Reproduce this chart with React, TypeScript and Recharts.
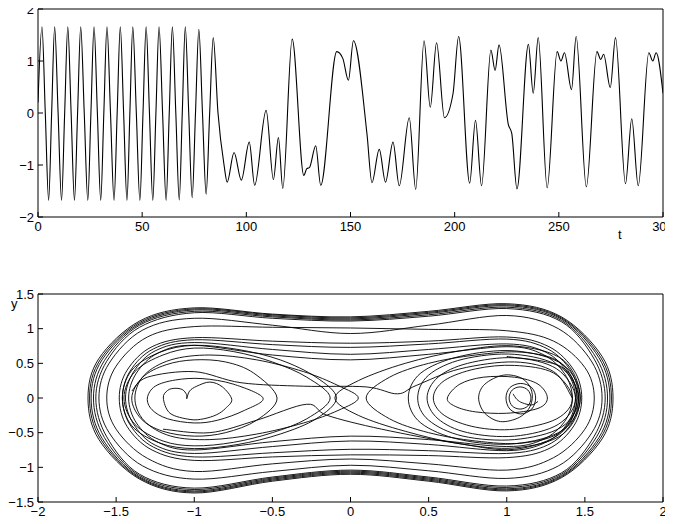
import React from 'react';
import { LineChart, Line, XAxis, YAxis } from 'recharts';

type Pt = [number, number];

const FONT = '"Liberation Sans", Arial, Helvetica, sans-serif';

const tTicks = [0, 50, 100, 150, 200, 250, 300];
const xTicks = [-2, -1, 0, 1, 2];
const phaseXTicks = [-2, -1.5, -1, -0.5, 0, 0.5, 1, 1.5, 2];
const phaseYTicks = [-1.5, -1, -0.5, 0, 0.5, 1, 1.5];

// upper panel: x(t) read at peaks, troughs, zero crossings and shoulders
const xOfT: Pt[] = [
  [0, 0.2], [1.9, 1.66], [3.5, 0], [5.1, -1.68], [6.55, 0],
  [8.0, 1.66], [9.65, 0], [11.3, -1.68], [12.8, 0],
  [14.3, 1.66], [15.9, 0], [17.5, -1.68], [19.0, 0],
  [20.5, 1.66], [22.2, 0], [23.9, -1.68], [25.4, 0],
  [26.9, 1.66], [28.5, 0], [30.1, -1.68], [31.6, 0],
  [33.1, 1.66], [34.8, 0], [36.5, -1.68], [38.0, 0],
  [39.5, 1.66], [41.1, 0], [42.7, -1.68], [44.1, 0],
  [45.5, 1.66], [47.2, 0], [48.9, -1.68], [50.4, 0],
  [51.9, 1.66], [53.5, 0], [55.1, -1.68], [56.6, 0],
  [58.1, 1.66], [59.8, 0], [61.5, -1.68], [63.0, 0],
  [64.5, 1.66], [66.15, 0], [67.8, -1.67], [69.25, 0],
  [70.7, 1.66], [72.35, 0], [74.0, -1.63], [75.6, 0],
  [77.2, 1.61], [78.95, 0], [80.7, -1.56], [82.4, 0],
  [84.1, 1.45], [86.4, 0.0], [89.3, -1.0], [90.8, -1.33],
  [94.1, -0.76], [97.6, -1.29], [101.4, -0.56], [104.0, -1.39],
  [109.5, 0.05], [113.0, -1.28], [115.4, -0.47], [117.5, -1.45],
  [122.0, 1.42], [127.6, -1.2], [129.0, -1.07], [130.3, -1.05],
  [133.3, -0.63], [135.7, -1.39], [143.4, 1.18], [146.3, 1.05],
  [149.0, 0.63], [151.4, 1.39], [157.9, -0.4], [160.3, -1.34],
  [163.8, -0.7], [166.8, -1.33], [170.4, -0.56], [173.4, -1.4],
  [178.2, -0.09], [181.3, -1.47], [185.3, 1.39], [188.3, 0.11],
  [191.3, 1.35], [195.1, -0.09], [199.2, 0.37], [201.9, 1.47],
  [207.2, -1.35], [210.0, -0.14], [212.9, -1.4], [217.4, 1.21],
  [219.4, 0.82], [221.3, 1.31], [225.8, -0.23], [227.4, -0.39],
  [229.9, -1.46], [235.4, 1.32], [237.7, 0.38], [240.1, 1.45],
  [244.4, -1.44], [249.2, 1.18], [251.0, 1.0], [252.7, 1.16],
  [256.1, 0.45], [258.3, 1.47], [263.2, -1.42], [268.3, 1.18],
  [270.1, 1.03], [271.5, 1.13], [274.7, 0.49], [277.2, 1.45],
  [282.0, -1.36], [285.0, -0.11], [288.1, -1.4], [293.2, 1.16],
  [295.1, 1.0], [296.7, 1.16], [300, 0.38],
];

// lower panel: (x, y) loops of the phase portrait, clockwise
const outer1: Pt[] = [[-1.68, 0], [-1.61, 0.57], [-1.35, 1.11], [-1, 1.3], [-0.5, 1.21], [0, 1.17], [0.5, 1.25], [1, 1.36], [1.35, 1.17], [1.61, 0.6], [1.68, 0], [1.61, -0.59], [1.35, -1.15], [1, -1.34], [0.5, -1.2], [0, -1.1], [-0.5, -1.2], [-1, -1.37], [-1.35, -1.17], [-1.61, -0.6]];
const outer2: Pt[] = [[-1.67, 0], [-1.6, 0.56], [-1.35, 1.09], [-1, 1.285], [-0.5, 1.2], [0, 1.155], [0.5, 1.235], [1, 1.345], [1.35, 1.155], [1.6, 0.59], [1.67, 0], [1.6, -0.58], [1.35, -1.135], [1, -1.325], [0.5, -1.185], [0, -1.085], [-0.5, -1.185], [-1, -1.355], [-1.35, -1.155], [-1.6, -0.59]];
const outer3: Pt[] = [[-1.66, 0], [-1.59, 0.55], [-1.35, 1.07], [-1, 1.27], [-0.5, 1.185], [0, 1.14], [0.5, 1.22], [1, 1.33], [1.35, 1.14], [1.59, 0.58], [1.66, 0], [1.59, -0.57], [1.35, -1.12], [1, -1.31], [0.5, -1.17], [0, -1.07], [-0.5, -1.17], [-1, -1.34], [-1.35, -1.14], [-1.59, -0.58]];
const outer4: Pt[] = [[-1.645, 0], [-1.575, 0.54], [-1.35, 1.05], [-1, 1.25], [-0.5, 1.17], [0, 1.125], [0.5, 1.2], [1, 1.31], [1.35, 1.12], [1.575, 0.57], [1.645, 0], [1.575, -0.56], [1.35, -1.1], [1, -1.29], [0.5, -1.155], [0, -1.055], [-0.5, -1.155], [-1, -1.32], [-1.35, -1.12], [-1.575, -0.57]];
const outer5: Pt[] = [[-1.63, 0], [-1.56, 0.53], [-1.35, 1.02], [-1, 1.23], [-0.5, 1.15], [0, 1.11], [0.5, 1.18], [1, 1.29], [1.35, 1.1], [1.56, 0.56], [1.63, 0], [1.56, -0.55], [1.35, -1.08], [1, -1.27], [0.5, -1.14], [0, -1.04], [-0.5, -1.14], [-1, -1.3], [-1.35, -1.1], [-1.56, -0.56]];
const mid1: Pt[] = [[-1.61, 0], [-1.545, 0.5], [-1.33, 0.98], [-1, 1.15], [-0.5, 1.05], [0, 0.93], [0.5, 1.05], [1, 1.19], [1.33, 1.0], [1.545, 0.52], [1.61, 0], [1.545, -0.5], [1.33, -0.98], [1, -1.16], [0.5, -1.05], [0, -0.97], [-0.5, -1.06], [-1, -1.17], [-1.33, -0.98], [-1.545, -0.5]];
const mid2: Pt[] = [[-1.56, 0], [-1.5, 0.46], [-1.3, 0.88], [-1, 1.03], [-0.5, 1.02], [0, 1.01], [0.5, 0.99], [1, 0.97], [1.3, 0.82], [1.5, 0.44], [1.56, 0], [1.5, -0.45], [1.3, -0.86], [1, -1.04], [0.5, -0.95], [0, -0.88], [-0.5, -0.95], [-1, -1.06], [-1.3, -0.87], [-1.5, -0.45]];
const band1: Pt[] = [[-1.48, 0], [-1.43, 0.4], [-1.27, 0.74], [-1, 0.87], [-0.5, 0.82], [0, 0.79], [0.5, 0.82], [1, 0.88], [1.27, 0.74], [1.43, 0.4], [1.48, 0], [1.43, -0.4], [1.27, -0.73], [1, -0.86], [0.5, -0.83], [0, -0.82], [-0.5, -0.85], [-1, -0.9], [-1.27, -0.75], [-1.43, -0.41]];
const band2: Pt[] = [[-1.46, 0], [-1.41, 0.39], [-1.26, 0.71], [-1, 0.84], [-0.5, 0.77], [0, 0.73], [0.5, 0.78], [1, 0.85], [1.26, 0.71], [1.41, 0.39], [1.46, 0], [1.41, -0.38], [1.26, -0.68], [1, -0.8], [0.5, -0.76], [0, -0.74], [-0.5, -0.79], [-1, -0.85], [-1.26, -0.71], [-1.41, -0.39]];
const band3: Pt[] = [[-1.44, 0], [-1.39, 0.37], [-1.25, 0.68], [-1, 0.8], [-0.5, 0.7], [0, 0.63], [0.5, 0.7], [1, 0.78], [1.25, 0.66], [1.39, 0.36], [1.44, 0], [1.39, -0.36], [1.25, -0.64], [1, -0.76], [0.5, -0.67], [0, -0.62], [-0.5, -0.7], [-1, -0.8], [-1.25, -0.68], [-1.39, -0.37]];
const band4: Pt[] = [[-1.42, 0], [-1.37, 0.36], [-1.23, 0.65], [-1, 0.76], [-0.5, 0.62], [0, 0.55], [0.5, 0.63], [1, 0.74], [1.23, 0.63], [1.37, 0.35], [1.42, 0], [1.37, -0.34], [1.23, -0.6], [1, -0.7], [0.5, -0.6], [0, -0.55], [-0.5, -0.63], [-1, -0.75], [-1.23, -0.64], [-1.37, -0.36]];
const leftWell1: Pt[] = [[-1.3, 0], [-1.25, 0.17], [-1.12, 0.26], [-0.95, 0.28], [-0.75, 0.2], [-0.56, 0], [-0.68, -0.18], [-0.85, -0.32], [-1.0, -0.36], [-1.17, -0.3], [-1.27, -0.17]];
const leftWell2: Pt[] = [[-1.4, 0], [-1.33, 0.3], [-1.18, 0.48], [-1, 0.55], [-0.8, 0.52], [-0.62, 0.36], [-0.47, 0], [-0.6, -0.32], [-0.8, -0.5], [-1, -0.55], [-1.2, -0.48], [-1.34, -0.3]];
const leftWell3: Pt[] = [[-1.45, 0], [-1.38, 0.38], [-1.2, 0.62], [-1, 0.72], [-0.75, 0.67], [-0.5, 0.52], [-0.28, 0.3], [-0.13, 0], [-0.28, -0.3], [-0.5, -0.5], [-0.75, -0.64], [-1, -0.69], [-1.2, -0.62], [-1.38, -0.38]];
const leftWell4: Pt[] = [[-1.46, 0], [-1.4, 0.4], [-1.22, 0.66], [-1, 0.76], [-0.72, 0.7], [-0.45, 0.55], [-0.22, 0.3], [-0.09, 0], [-0.22, -0.3], [-0.45, -0.52], [-0.72, -0.67], [-1, -0.73], [-1.22, -0.65], [-1.4, -0.4]];
const leftWell5: Pt[] = [[-1.38, 0], [-1.32, 0.33], [-1.15, 0.55], [-0.9, 0.62], [-0.6, 0.55], [-0.3, 0.38], [-0.08, 0.18], [0.05, 0], [-0.08, -0.18], [-0.3, -0.36], [-0.6, -0.52], [-0.9, -0.6], [-1.15, -0.55], [-1.32, -0.33]];
const rightWell1: Pt[] = [[0.82, 0], [0.86, 0.2], [0.98, 0.33], [1.1, 0.28], [1.16, 0.1], [1.15, -0.12], [1.08, -0.28], [0.96, -0.34], [0.86, -0.22]];
const rightWell2: Pt[] = [[0.62, 0], [0.7, 0.2], [0.85, 0.3], [1.05, 0.3], [1.2, 0.2], [1.26, 0], [1.2, -0.15], [1.0, -0.22], [0.8, -0.2], [0.67, -0.12]];
const rightWell3: Pt[] = [[0.53, 0], [0.6, 0.25], [0.8, 0.42], [1.05, 0.47], [1.3, 0.36], [1.42, 0], [1.32, -0.3], [1.05, -0.45], [0.8, -0.42], [0.6, -0.25]];
const rightWell4: Pt[] = [[0.49, 0], [0.56, 0.3], [0.75, 0.5], [1.05, 0.58], [1.32, 0.42], [1.44, 0], [1.33, -0.38], [1.05, -0.55], [0.75, -0.5], [0.56, -0.3]];
const rightWell5: Pt[] = [[0.43, 0], [0.5, 0.33], [0.72, 0.56], [1.05, 0.63], [1.34, 0.45], [1.46, 0], [1.35, -0.42], [1.05, -0.6], [0.72, -0.55], [0.5, -0.32]];
const rightWell6: Pt[] = [[0.37, 0], [0.45, 0.36], [0.7, 0.6], [1.05, 0.68], [1.36, 0.48], [1.47, 0], [1.36, -0.46], [1.05, -0.66], [0.7, -0.6], [0.45, -0.36]];
const rightWell7: Pt[] = [[0.1, 0], [0.25, 0.3], [0.5, 0.5], [0.8, 0.62], [1.1, 0.66], [1.35, 0.5], [1.45, 0], [1.35, -0.48], [1.1, -0.65], [0.8, -0.62], [0.5, -0.5], [0.25, -0.3]];
const rightWell8: Pt[] = [[-0.1, 0], [0.05, 0.25], [0.35, 0.5], [0.7, 0.68], [1.05, 0.75], [1.36, 0.55], [1.47, 0], [1.36, -0.52], [1.05, -0.72], [0.7, -0.66], [0.35, -0.48], [0.05, -0.25]];
const spiral1: Pt[] = [[1.015, 0], [1.035, 0.115], [1.085, 0.16], [1.135, 0.115], [1.155, 0], [1.135, -0.115], [1.085, -0.16], [1.035, -0.115]];
const spiral2: Pt[] = [[0.995, 0], [1.02, 0.15], [1.09, 0.21], [1.16, 0.15], [1.185, 0], [1.16, -0.16], [1.09, -0.23], [1.02, -0.16]];

const heart: Pt[] = [[-1.048, -0.01], [-1.03, 0.1], [-0.984, 0.17], [-0.9, 0.23], [-0.82, 0.16], [-0.76, -0.02], [-0.8, -0.15], [-0.856, -0.24], [-0.94, -0.3], [-1.027, -0.31], [-1.155, -0.22], [-1.198, 0], [-1.17, 0.11], [-1.123, 0.14], [-1.075, 0.12], [-1.05, 0.05], [-1.048, -0.01]];
const crossLow: Pt[] = [[-1.2, -0.45], [-0.9, -0.5], [-0.6, -0.32], [-0.28, -0.09], [-0.15, -0.25], [0.2, -0.45], [0.7, -0.66], [1.05, -0.74], [1.35, -0.5], [1.45, 0], [1.35, 0.45], [1.0, 0.6]];
const crossHigh: Pt[] = [[-1.4, 0.1], [-1.3, 0.3], [-1.0, 0.38], [-0.7, 0.22], [-0.3, 0.17], [0.1, 0.16], [0.3, 0.06], [0.42, 0.18], [0.7, 0.42], [1.05, 0.52], [1.3, 0.38], [1.42, 0]];
const spiralTail: Pt[] = [[1.04, 0.06], [1.065, -0.02], [1.1, -0.07], [1.16, -0.1], [1.2, -0.05]];

const closedLoops = [
  outer1, outer2, outer3, outer4, outer5, mid1, mid2,
  band1, band2, band3, band4,
  leftWell1, leftWell2, leftWell3, leftWell4, leftWell5,
  rightWell1, rightWell2, rightWell3, rightWell4, rightWell5, rightWell6, rightWell7, rightWell8,
  spiral1, spiral2,
];
const openPaths = [heart, crossLow, crossHigh, spiralTail];

// Catmull-Rom curve through the points (closed or open)
function catmull(closed: boolean) {
  return (context: any) => {
    let pts: number[][] = [];
    return {
      areaStart() {},
      areaEnd() {},
      lineStart() {
        pts = [];
      },
      point(x: number, y: number) {
        pts.push([+x, +y]);
      },
      lineEnd() {
        const n = pts.length;
        if (!n) return;
        const get = (i: number) => (closed ? pts[(i + n) % n] : pts[Math.max(0, Math.min(n - 1, i))]);
        context.moveTo(pts[0][0], pts[0][1]);
        const segs = closed ? n : n - 1;
        for (let i = 0; i < segs; i++) {
          const p0 = get(i - 1);
          const p1 = get(i);
          const p2 = get(i + 1);
          const p3 = get(i + 2);
          context.bezierCurveTo(
            p1[0] + (p2[0] - p0[0]) / 6,
            p1[1] + (p2[1] - p0[1]) / 6,
            p2[0] - (p3[0] - p1[0]) / 6,
            p2[1] - (p3[1] - p1[1]) / 6,
            p2[0],
            p2[1],
          );
        }
        if (closed) context.closePath();
      },
    };
  };
}

const closedCurve = catmull(true);
const openCurve = catmull(false);

const fmt = (v: number) => String(v).replace('-', '\u2212');
const tickStyle = { fill: '#000', fontSize: 13, fontFamily: FONT };
const axisLine = { stroke: '#000', strokeWidth: 1 };

const seriesData = xOfT.map(([t, x]) => ({ t, x }));
const toXY = (pts: Pt[]) => pts.map(([x, y]) => ({ x, y }));

export default function App() {
  return (
    <div style={{ position: 'relative', width: 665, height: 514, fontFamily: FONT }}>
      <style>{'body{overflow:hidden}'}</style>
      <div style={{ position: 'absolute', left: 0, top: -8 }}>
        <LineChart width={665} height={237} data={seriesData} margin={{ top: 8, right: 0, bottom: 0, left: 0 }}>
          <XAxis
            dataKey="t"
            type="number"
            domain={[0, 300]}
            ticks={tTicks}
            height={20}
            tickSize={-5}
            tickMargin={10}
            axisLine={axisLine}
            tickLine={axisLine}
            tick={tickStyle}
            interval={0}
            allowDataOverflow
          />
          <XAxis
            xAxisId="top"
            orientation="top"
            dataKey="t"
            type="number"
            domain={[0, 300]}
            ticks={tTicks}
            height={1}
            tickSize={-5}
            axisLine={axisLine}
            tickLine={axisLine}
            tick={false}
            interval={0}
          />
          <YAxis
            type="number"
            domain={[-2, 2]}
            ticks={xTicks}
            width={30}
            tickSize={-5}
            tickMargin={9}
            axisLine={axisLine}
            tickLine={axisLine}
            tick={tickStyle}
            tickFormatter={fmt}
            interval={0}
            allowDataOverflow
          />
          <YAxis
            yAxisId="r"
            orientation="right"
            type="number"
            domain={[-2, 2]}
            ticks={xTicks}
            width={10}
            tickSize={-5}
            axisLine={axisLine}
            tickLine={axisLine}
            tick={false}
            interval={0}
          />
          <Line
            dataKey="x"
            type="monotone"
            stroke="#000"
            strokeWidth={1.1}
            dot={false}
            activeDot={false}
            isAnimationActive={false}
          />
        </LineChart>
      </div>
      <div style={{ position: 'absolute', left: 0, top: 229 }}>
        <LineChart width={665} height={285} margin={{ top: 0, right: 0, bottom: 0, left: 0 }}>
          <XAxis
            dataKey="x"
            type="number"
            domain={[-2, 2]}
            ticks={phaseXTicks}
            height={20}
            tickSize={-5}
            tickMargin={10}
            axisLine={axisLine}
            tickLine={axisLine}
            tick={tickStyle}
            tickFormatter={fmt}
            interval={0}
            allowDataOverflow
          />
          <XAxis
            xAxisId="top"
            orientation="top"
            dataKey="x"
            type="number"
            domain={[-2, 2]}
            ticks={phaseXTicks}
            height={57}
            tickSize={-5}
            axisLine={axisLine}
            tickLine={axisLine}
            tick={false}
            interval={0}
          />
          <YAxis
            type="number"
            domain={[-1.5, 1.5]}
            ticks={phaseYTicks}
            width={30}
            tickSize={-5}
            tickMargin={9}
            axisLine={axisLine}
            tickLine={axisLine}
            tick={tickStyle}
            tickFormatter={fmt}
            interval={0}
            allowDataOverflow
          />
          <YAxis
            yAxisId="r"
            orientation="right"
            type="number"
            domain={[-1.5, 1.5]}
            ticks={phaseYTicks}
            width={10}
            tickSize={-5}
            axisLine={axisLine}
            tickLine={axisLine}
            tick={false}
            interval={0}
          />
          {closedLoops.map((loop, i) => (
            <Line
              key={`c${i}`}
              data={toXY(loop)}
              dataKey="y"
              type={closedCurve as any}
              stroke="#000"
              strokeWidth={0.9}
              dot={false}
              activeDot={false}
              isAnimationActive={false}
            />
          ))}
          {openPaths.map((path, i) => (
            <Line
              key={`o${i}`}
              data={toXY(path)}
              dataKey="y"
              type={openCurve as any}
              stroke="#000"
              strokeWidth={0.9}
              dot={false}
              activeDot={false}
              isAnimationActive={false}
            />
          ))}
        </LineChart>
      </div>
      <div style={{ position: 'absolute', left: 610, top: 220, fontSize: 13, lineHeight: '13px' }}>t</div>
      <div style={{ position: 'absolute', left: 3, top: 289, fontSize: 13, lineHeight: '13px' }}>y</div>
    </div>
  );
}
